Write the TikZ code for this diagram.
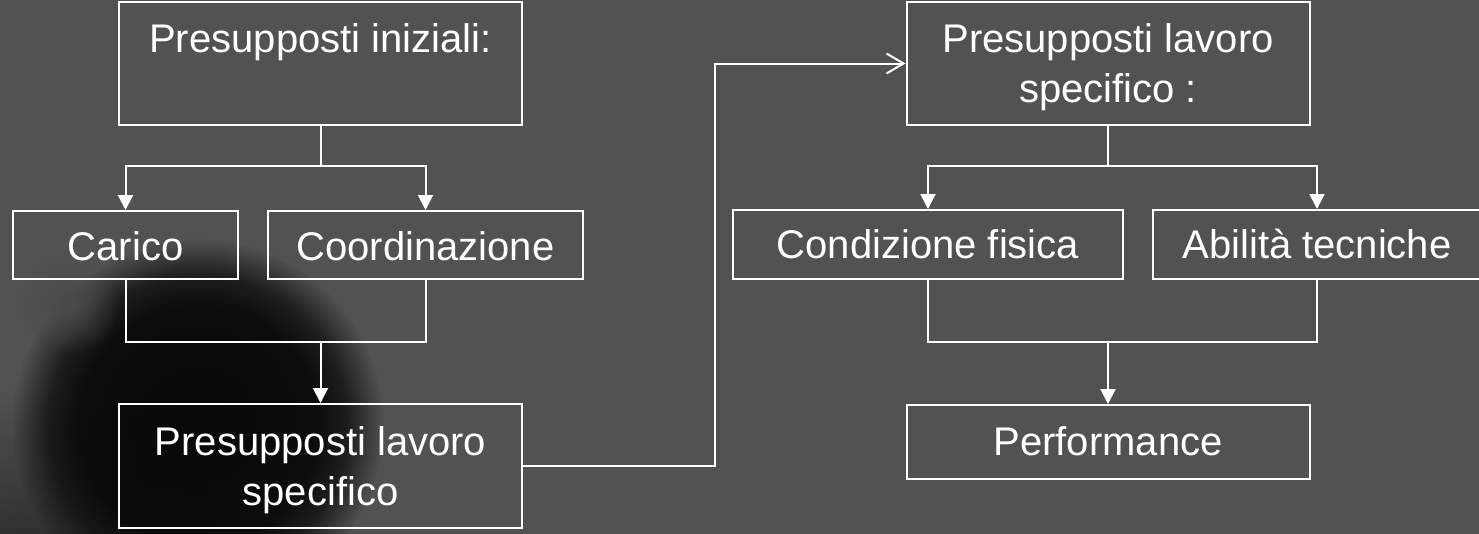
\documentclass[tikz,border=0pt]{standalone}
\usepackage{fontspec}
\setmainfont{Liberation Sans}
\usetikzlibrary{arrows.meta,fadings}
\definecolor{bgc}{RGB}{82,82,82}
\definecolor{blobc}{RGB}{9,9,9}
\definecolor{shadowc}{RGB}{40,40,40}
\pgfdeclareradialshading{blobmask}{\pgfpoint{0bp}{0bp}}{%
  color(0bp)=(white); color(16bp)=(white!95!black); color(20bp)=(white!72!black);
  color(25bp)=(black); color(50bp)=(black)}
\pgfdeclarefading{blobfade}{\pgfuseshading{blobmask}}
\tikzfading[name=softspot, inner color=transparent!0, outer color=transparent!100]
\tikzset{
  box/.style={draw=white, line width=2pt, inner sep=0pt},
  txt/.style={text=white, inner sep=0pt, anchor=base,
    font=\fontsize{40}{50}\selectfont},
  link/.style={draw=white, line width=2pt},
  arr/.style={link, -{Triangle[length=15pt,width=15pt]}},
  openarr/.style={link, -{Straight Barb[length=17pt,width=20pt,line width=2pt]}}
}
\begin{document}
\begin{tikzpicture}[x=1pt,y=-1pt]
\useasboundingbox (0,0) rectangle (1479,533);
\begin{scope}
\clip (0,0) rectangle (1479,533);
\fill[bgc] (-5,-5) rectangle (1485,540);
% dark blurred blob (photo background)
\fill[shadowc, path fading=softspot] (30,570) ellipse (200 and 180);
\fill[blobc, path fading=blobfade] (198,425) circle (186);
\fill[bgc!90!black, path fading=softspot] (70,305) circle (50);
\end{scope}

% boxes
\node[box, minimum width=403pt, minimum height=123pt] (b1) at (320.5,63.5) {};
\node[box, minimum width=225pt, minimum height=68pt] (carico) at (125.5,245) {};
\node[box, minimum width=315pt, minimum height=68pt] (coord) at (425.5,245) {};
\node[box, minimum width=403pt, minimum height=124pt] (b3) at (320.5,466) {};
\node[box, minimum width=403pt, minimum height=123pt] (b4) at (1108,63.5) {};
\node[box, minimum width=390pt, minimum height=69pt] (cond) at (928,244.5) {};
\node[box, minimum width=328pt, minimum height=69pt] (abil) at (1317,244.5) {};
\node[box, minimum width=403pt, minimum height=74pt] (perf) at (1108,442) {};

% texts
\node[txt] (t1) at (320.5,52) {Presupposti iniziali:};
\node[txt] (t2) at (125.5,260) {Carico};
\node[txt] (t3) at (425.5,260) {Coordinazione};
\node[txt] (t4a) at (320.5,455) {Presupposti lavoro};
\node[txt] (t4b) at (320.5,505) {specifico};
\node[txt] (t5a) at (1108,52) {Presupposti lavoro};
\node[txt] (t5b) at (1108,102) {specifico :};
\node[txt] (t6) at (928,258) {Condizione fisica};
\node[txt] (t7) at (1317,258) {Abilità tecniche};
\node[txt] (t8) at (1108,455) {Performance};

% connectors
\coordinate (j1) at (320.5,166);
\draw[link] (b1.south) -- (j1);
\draw[arr] (j1) -| (carico.north);
\draw[arr] (j1) -| (coord.north);

\coordinate (j2) at (320.5,342);
\draw[link] (carico.south) |- (j2) -| (coord.south);
\draw[arr] (j2) -- (b3.north);

\coordinate (k1) at (715,63.5);
\draw[openarr] (b3.east) -| (k1) -- (b4.west);

\coordinate (j3) at (1108,166);
\draw[link] (b4.south) -- (j3);
\draw[arr] (j3) -| (cond.north);
\draw[arr] (j3) -| (abil.north);

\coordinate (j4) at (1108,342);
\draw[link] (cond.south) |- (j4) -| (abil.south);
\draw[arr] (j4) -- (perf.north);
\end{tikzpicture}
\end{document}
